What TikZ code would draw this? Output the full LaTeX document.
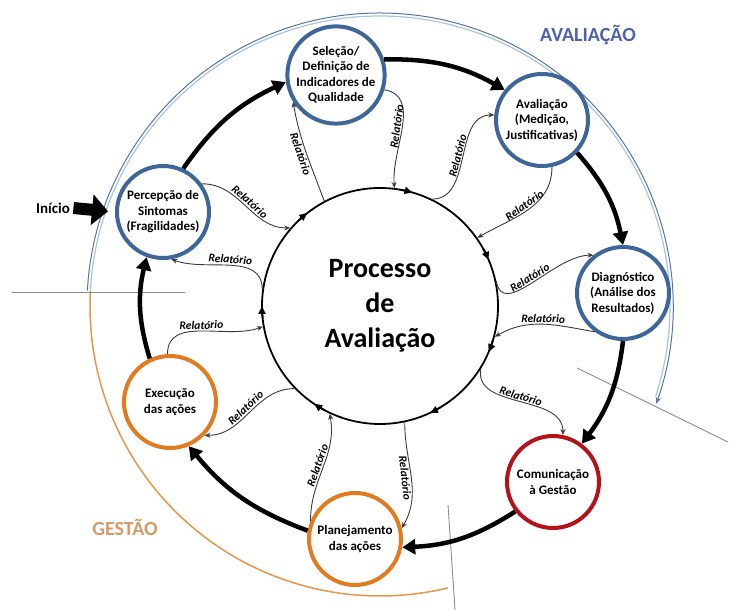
\documentclass[tikz,border=0pt]{standalone}
\usepackage{fontspec}
\setmainfont{Carlito}
\usetikzlibrary{arrows.meta, calc}
\definecolor{cblue}{HTML}{3F6698}
\definecolor{corange}{HTML}{E27B1F}
\definecolor{cred}{HTML}{B3141C}
\definecolor{cdark}{HTML}{3A3A3A}
\definecolor{cgrey}{HTML}{8C8C8C}
\definecolor{ctitleblue}{HTML}{4D62A8}
\definecolor{ctitleorange}{HTML}{D69A6A}
\definecolor{carcblue}{HTML}{5676A0}
\definecolor{carclight}{HTML}{A9C3E0}
\definecolor{carcorange}{HTML}{E8954A}
\tikzset{
  every picture/.style={font=\bfseries},
  etapa/.style={circle, draw=#1, line width=4pt, minimum size=92pt, inner sep=0pt, align=center, font=\fontsize{13}{15.5}\selectfont\bfseries},
  etapa/.default=cblue,
  flow/.style={-{Triangle[length=13pt, width=15pt]}, line width=4.5pt},
  rel/.style={-{Stealth[length=6pt, width=5pt]}, draw=cdark, line width=0.9pt},
  lbl/.style={font=\fontsize{11.5}{13}\selectfont\bfseries\itshape, sloped, inner sep=1.2pt},
  marca/.style={-{Triangle[length=8pt, width=7pt]}, line width=1.8pt},
  fase/.style={font=\fontsize{20}{24}\selectfont\bfseries},
}

\begin{document}
\begin{tikzpicture}[x=1pt, y=1pt]
  \useasboundingbox (0,0) rectangle (729,610);
  % centre
  \node[circle, draw, line width=1.8pt, minimum size=236pt, align=center, font=\fontsize{28}{35}\selectfont\bfseries] (proc) at (380,304) {Processo\\de\\Avaliação};
  \foreach \a in {23,74,128,180,236,295,337}
    \draw[marca] ($(proc.center)+(\a+6:118pt)$) arc[start angle=\a+6, end angle=\a, radius=118pt];

  % fases
  \draw[carcblue, line width=1pt, -{Stealth[length=7pt, width=6pt, open]}] ($(proc.center)+(177:293pt)$) arc[start angle=177, end angle=-19.5, radius=293pt];
  \draw[carclight, line width=1.2pt] ($(proc.center)+(177:290pt)$) arc[start angle=177, end angle=-18, radius=290pt];
  \draw[carcorange, line width=1.5pt] ($(proc.center)+(177:290pt)$) arc[start angle=177, end angle=283.5, radius=290pt];
  \node[fase, text=ctitleblue] (tava) at (588,575) {AVALIAÇÃO};
  \node[fase, text=ctitleorange] (tges) at (125,83) {GESTÃO};
  \draw[cgrey, line width=0.9pt] (12,318) -- (185,318);
  \draw[cgrey, line width=0.9pt] (577,242) -- (728,168);
  \draw[cgrey, line width=0.9pt] (448,105) -- (455,0);

  % etapas
  \node[etapa] (perc) at (163,398) {Percepção de\\Sintomas\\(Fragilidades)};
  \node[etapa] (sel) at (336,535) {Seleção/\\Definição de\\Indicadores de\\Qualidade};
  \node[etapa] (aval) at (542,490) {Avaliação\\(Medição,\\Justificativas)};
  \node[etapa] (diag) at (623,317) {Diagnóstico\\(Análise dos\\Resultados)};
  \node[etapa=cred] (com) at (553,128) {Comunicação\\à Gestão};
  \node[etapa=corange] (plan) at (355,71) {Planejamento\\das ações};
  \node[etapa=corange] (exec) at (170,208) {Execução\\das ações};
  \node[font=\fontsize{15}{18}\selectfont\bfseries] (ini) at (53,402) {Início};
  \draw[-{Triangle[length=16pt, width=30pt]}, line width=12pt, shorten >=7pt] (ini.east) -- (perc.west);

  % ciclo
  \draw[flow] (perc.65) to[bend left=15] (sel.188);
  \draw[flow] (sel.18) to[bend left=15] (aval.141);
  \draw[flow] (aval.-43) to[bend left=15] (diag.90);
  \draw[flow] (diag.-90) to[bend left=15] (com.53);
  \draw[flow] (com.218) to[bend left=15] (plan.-10);
  \draw[flow] (plan.170) to[bend left=15] (exec.-67);
  \draw[flow] (exec.115) to[bend left=15] (perc.250);

  % relatorios
  \draw[rel] (perc.36) to[out=0, in=180] node[lbl, above] {Relatório} (proc.139);
  \draw[rel] (proc.172) to[out=90, in=-20] node[lbl, above] {Relatório} (perc.-80);
  \draw[rel] (proc.118) to[out=110, in=-80] node[lbl, below] {Relatório} (sel.212);
  \draw[rel] (sel.-17) to[out=-10, in=95] node[lbl, above] {Relatório} (proc.83);
  \draw[rel] (proc.64) to[out=0, in=180] node[lbl, above] {Relatório} (aval.174);
  \draw[rel] (aval.-78) to[out=-90, in=30] node[lbl, above] {Relatório} (proc.35);
  \draw[rel] (proc.12) to[out=-80, in=180] node[lbl, above] {Relatório} (diag.128);
  \draw[rel] (diag.234) to[out=170, in=30] node[lbl, above] {Relatório} (proc.-15);
  \draw[rel] (proc.-32) to[out=-100, in=90] node[lbl, above] {Relatório} (com.78);
  \draw[rel] (proc.-78) to[out=-90, in=60] node[lbl, below] {Relatório} (plan.13);
  \draw[rel] (plan.158) to[out=90, in=-80] node[lbl, above] {Relatório} (proc.245);
  \draw[rel] (proc.224) to[out=180, in=0] node[lbl, above] {Relatório} (exec.-44);
  \draw[rel] (exec.93) to[out=90, in=200] node[lbl, above] {Relatório} (proc.190);
\end{tikzpicture}
\end{document}
